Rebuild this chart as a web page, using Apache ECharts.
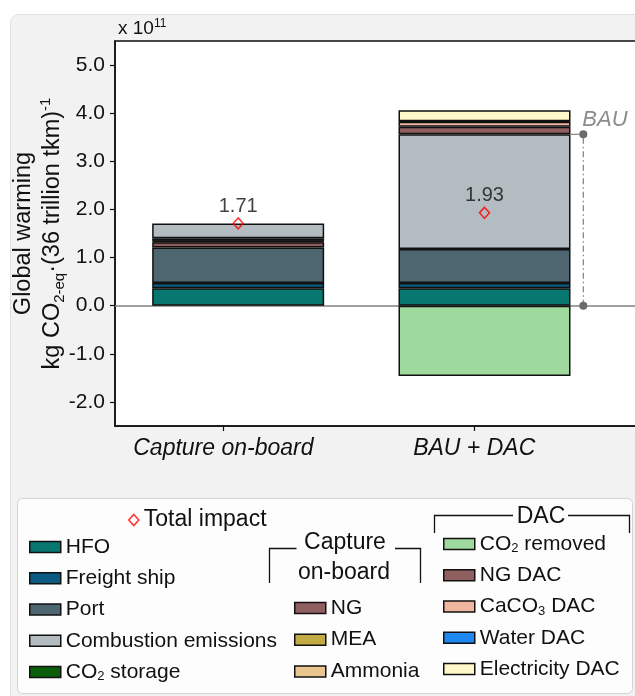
<!DOCTYPE html>
<html><head><meta charset="utf-8">
<script src="https://cdn.jsdelivr.net/npm/echarts@6/dist/echarts.min.js"></script>
<style>html,body{margin:0;padding:0;background:#fff;} #c{width:635px;height:696px;}</style>
</head><body><div id="c"></div>
<script>
// ---------- data ----------
const categories = ['Capture on-board', 'BAU + DAC'];
const yTicks = [-2, -1, 0, 1, 2, 3, 4, 5];
const hfo = [0.36, 0.36];
const freightShip = [0.11, 0.11];
const port = [0.74, 0.71];
const ng = [0.11, null];
const mea = [0.02, null];
const ammonia = [0.01, null];
const co2Storage = [0.05, null];
const combustion = [0.31, 2.38];
const co2Removed = [null, -1.46];
const ngDac = [null, 0.16];
const caco3Dac = [null, 0.10];
const waterDac = [null, 0.01];
const electricityDac = [null, 0.23];
const totalImpact = [1.71, 1.93];

// ---------- styling ----------
const FONT = 'Liberation Sans, Arial, sans-serif';
const TXT = '#111';
// BAU annotation placement on the label (value) axis
const BAR2_RIGHT = 1.386;
const BAU_X = 1.435;

const stackDefs = [
  ['HFO', hfo, '#08776f'],
  ['Freight ship', freightShip, '#0a5a82'],
  ['Port', port, '#4e6670'],
  ['NG', ng, '#8f5f5f'],
  ['MEA', mea, '#c2ab44'],
  ['Ammonia', ammonia, '#e9c68f'],
  ['CO2 storage', co2Storage, '#0a5e0a'],
  ['Combustion emissions', combustion, '#b3bdc1'],
  ['CO2 removed', co2Removed, '#9ed99d'],
  ['NG DAC', ngDac, '#8f5f5f'],
  ['CaCO3 DAC', caco3Dac, '#f1b6a0'],
  ['Water DAC', waterDac, '#1e88f0'],
  ['Electricity DAC', electricityDac, '#fff8c9']
];

const series = stackDefs.map(([name, vals, color], k) => {
  const s = {
    name, type: 'bar', stack: 'total', barWidth: 172, xAxisIndex: 0,
    data: vals.map(v => (v == null ? '-' : v)),
    itemStyle: { color, borderColor: '#111', borderWidth: 1.5 },
    emphasis: { disabled: true }, silent: true
  };
  if (k === 0) {
    s.markLine = {
      silent: true, z: 1, symbol: ['none', 'none'], label: { show: false },
      lineStyle: { color: '#808080', width: 1.5, type: 'solid' },
      data: [{ yAxis: 0 }]
    };
  }
  return s;
});

// BAU annotation (value computed from the BAU + DAC bar's base components)
const bau = hfo[1] + freightShip[1] + port[1] + combustion[1];
series.push({
  type: 'line', silent: true, z: 3, xAxisIndex: 1,
  data: [[BAR2_RIGHT, bau], [BAU_X, bau]],
  symbol: 'none', lineStyle: { color: '#8a8a8a', width: 1.2 }
});
series.push({
  type: 'line', silent: true, z: 4, xAxisIndex: 1,
  data: [[BAU_X, 0], [BAU_X, bau]],
  symbol: 'circle', symbolSize: 8,
  itemStyle: { color: '#6b6b6b' },
  lineStyle: { color: '#8a8a8a', width: 1.3, type: [6, 3, 1.5, 3] },
  label: {
    show: true, position: [3, -10], align: 'left', verticalAlign: 'middle',
    formatter: p => p.dataIndex === 1 ? 'BAU' : '',
    fontSize: 22, fontStyle: 'italic', color: '#8c8c8c', fontFamily: FONT
  }
});
series.push({
  name: 'Total impact', type: 'scatter', z: 6, xAxisIndex: 0,
  data: totalImpact,
  symbol: 'diamond', symbolSize: [10, 11],
  itemStyle: { color: 'rgba(255,255,255,0)', borderColor: '#ff0000', borderWidth: 1.6 },
  label: {
    show: true, position: 'top', distance: 1,
    formatter: p => Number(p.value).toFixed(2),
    fontSize: 20, color: TXT, fontFamily: FONT
  }
});

const subRich = {
  t: { fontSize: 21, lineHeight: 22, fontFamily: FONT, color: TXT },
  s: { fontSize: 13, lineHeight: 10, verticalAlign: 'bottom', fontFamily: FONT, color: TXT }
};
function legendFmt(name) {
  if (name === 'CO2 storage') return '{t|CO}{s|2}{t| storage}';
  if (name === 'CO2 removed') return '{t|CO}{s|2}{t| removed}';
  if (name === 'CaCO3 DAC') return '{t|CaCO}{s|3}{t| DAC}';
  return '{t|' + name + '}';
}
function colLegend(left, top, data, gap, textGap) {
  return {
    left, top, orient: 'vertical', data, itemGap: gap, itemWidth: 31, itemHeight: 11,
    itemTextGap: textGap, icon: 'rect', selectedMode: false,
    itemStyle: { borderColor: '#111', borderWidth: 1.5 },
    formatter: legendFmt,
    textStyle: { fontSize: 21, lineHeight: 22, color: TXT, fontFamily: FONT, rich: subRich }
  };
}

const option = {
  animation: false,
  textStyle: { fontFamily: FONT },
  grid: {
    left: 115, top: 41, right: -219, bottom: 270,
    show: true, backgroundColor: '#ffffff', borderColor: '#111', borderWidth: 1.5,
    containLabel: false, outerBoundsMode: 'none'
  },
  xAxis: [
    { // bar placement axis (hidden); third slot is empty space to the right
      type: 'category', data: categories.concat(['']), position: 'bottom',
      show: false, boundaryGap: true
    },
    { // tick / label axis
      type: 'value', min: -0.432, max: 2.514, position: 'bottom',
      axisLine: { show: true, onZero: false, lineStyle: { color: '#111', width: 1.5 } },
      axisTick: { show: true, customValues: [0, 1], length: 5, lineStyle: { color: '#111', width: 1.2 } },
      axisLabel: {
        customValues: [0, 1], formatter: v => categories[Math.round(v)] || '',
        fontSize: 23, fontStyle: 'italic', color: TXT, margin: 11, fontFamily: FONT
      },
      splitLine: { show: false }
    }
  ],
  yAxis: {
    type: 'value', min: -2.5, max: 5.5,
    axisLine: { show: true, onZero: false, lineStyle: { color: '#111', width: 1.5 } },
    axisTick: { show: true, customValues: yTicks, length: 5, lineStyle: { color: '#111', width: 1.2 } },
    axisLabel: {
      customValues: yTicks, formatter: v => v.toFixed(1),
      fontSize: 21, color: TXT, margin: 10, fontFamily: FONT
    },
    splitLine: { show: false },
    name: '{m|Global warming}\n{m|kg CO}{sub|2-eq}{m|·(36 trillion tkm)}{sup|-1}',
    nameLocation: 'middle', nameRotate: 90, nameGap: 48, nameMoveOverlap: false,
    nameTextStyle: {
      fontSize: 23.5, lineHeight: 29, color: TXT, fontFamily: FONT,
      rich: {
        m: { fontSize: 23.5, lineHeight: 29, color: TXT, fontFamily: FONT },
        sub: { fontSize: 15, lineHeight: 12, verticalAlign: 'bottom', color: TXT, fontFamily: FONT },
        sup: { fontSize: 15, lineHeight: 12, verticalAlign: 'top', color: TXT, fontFamily: FONT }
      }
    }
  },
  legend: [
    {
      left: 123, top: 502, data: ['Total impact'], icon: 'diamond',
      itemWidth: 10, itemHeight: 11, itemTextGap: 7, selectedMode: false,
      itemStyle: { color: 'rgba(255,255,255,0)', borderColor: '#ff0000', borderWidth: 1.6 },
      textStyle: { fontSize: 23, lineHeight: 26, color: TXT, fontFamily: FONT }
    },
    colLegend(24, 531, ['HFO', 'Freight ship', 'Port', 'Combustion emissions', 'CO2 storage'], 9.25, 10),
    colLegend(289, 592, ['NG', 'MEA', 'Ammonia'], 9.7, 10),
    colLegend(438, 528, ['CO2 removed', 'NG DAC', 'CaCO3 DAC', 'Water DAC', 'Electricity DAC'], 9.25, 14)
  ],
  graphic: [
    { type: 'rect', z: -20, silent: true,
      shape: { x: 10.5, y: 14.5, width: 700, height: 700, r: 8 },
      style: { fill: '#f2f2f2', stroke: '#e0e0e0', lineWidth: 1 } },
    { type: 'rect', z: -10, silent: true,
      shape: { x: 17.5, y: 498.5, width: 615, height: 195, r: 5 },
      style: { fill: '#fdfdfd', stroke: '#d4d4d4', lineWidth: 1 } },
    { type: 'text', z: 10, left: 118, top: 18, silent: true,
      style: { text: '{a|x 10}{b|11}', fill: TXT,
        rich: { a: { fontSize: 19, lineHeight: 22, fontFamily: FONT, fill: TXT },
                b: { fontSize: 12, lineHeight: 12, verticalAlign: 'top', fontFamily: FONT, fill: TXT } } } },
    // Capture on-board bracket
    { type: 'polyline', z: 10, silent: true,
      shape: { points: [[269.5, 583], [269.5, 548.5], [296.5, 548.5]] },
      style: { stroke: '#111', lineWidth: 1.3, fill: null } },
    { type: 'polyline', z: 10, silent: true,
      shape: { points: [[395, 548.5], [420.5, 548.5], [420.5, 583]] },
      style: { stroke: '#111', lineWidth: 1.3, fill: null } },
    { type: 'text', z: 10, x: 345, y: 543, silent: true,
      style: { text: 'Capture', fontSize: 23, fontFamily: FONT, fill: TXT, align: 'center', verticalAlign: 'middle' } },
    { type: 'text', z: 10, x: 344, y: 573, silent: true,
      style: { text: 'on-board', fontSize: 23, fontFamily: FONT, fill: TXT, align: 'center', verticalAlign: 'middle' } },
    // DAC bracket
    { type: 'polyline', z: 10, silent: true,
      shape: { points: [[434.5, 533], [434.5, 515.5], [513, 515.5]] },
      style: { stroke: '#111', lineWidth: 1.3, fill: null } },
    { type: 'polyline', z: 10, silent: true,
      shape: { points: [[568, 515.5], [629.5, 515.5], [629.5, 533]] },
      style: { stroke: '#111', lineWidth: 1.3, fill: null } },
    { type: 'text', z: 10, x: 541, y: 516.5, silent: true,
      style: { text: 'DAC', fontSize: 23, fontFamily: FONT, fill: TXT, align: 'center', verticalAlign: 'middle' } }
  ],
  series
};

const chart = echarts.init(document.getElementById('c'), null, { renderer: 'canvas' });
chart.setOption(option);
</script>
</body></html>
